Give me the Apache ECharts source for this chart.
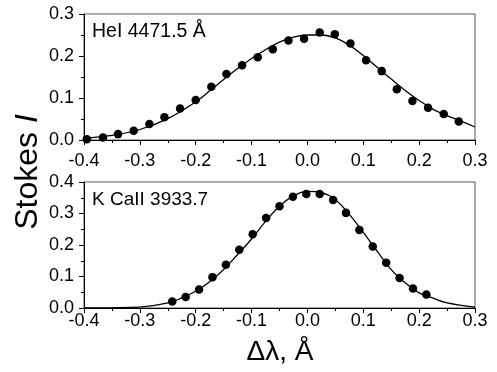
<!DOCTYPE html>
<html>
<head>
<meta charset="utf-8">
<script src="https://cdn.jsdelivr.net/npm/echarts@6/dist/echarts.min.js"></script>
<style>html,body{margin:0;padding:0;background:#fff;}#c{width:497px;height:372px;}</style>
</head>
<body>
<div id="c"></div>
<script>
// Top panel: HeI 4471.5 Å
const heX = [-0.395,-0.366,-0.339,-0.311,-0.283,-0.256,-0.228,-0.200,-0.172,-0.145,-0.117,-0.089,-0.062,-0.034,-0.006,0.022,0.049,0.077,0.105,0.133,0.160,0.188,0.216,0.244,0.271];
const heY = [0.002,0.006,0.014,0.022,0.038,0.054,0.075,0.095,0.127,0.157,0.178,0.197,0.216,0.237,0.241,0.256,0.252,0.230,0.190,0.164,0.121,0.093,0.077,0.062,0.044];
const heFitX = [-0.4,-0.35,-0.3,-0.25,-0.2,-0.175,-0.15,-0.125,-0.1,-0.075,-0.05,-0.025,0,0.025,0.05,0.075,0.1,0.125,0.15,0.175,0.2,0.225,0.25,0.275,0.3];
const heFitY = [0.004,0.011,0.025,0.051,0.091,0.117,0.144,0.170,0.194,0.215,0.233,0.245,0.250,0.250,0.243,0.226,0.201,0.173,0.145,0.118,0.094,0.073,0.058,0.045,0.031];
// Bottom panel: K CaII 3933.7
const caX = [-0.242,-0.218,-0.194,-0.170,-0.146,-0.122,-0.098,-0.074,-0.050,-0.026,-0.002,0.022,0.046,0.069,0.093,0.117,0.141,0.165,0.189,0.213];
const caY = [0.021,0.035,0.059,0.098,0.137,0.185,0.234,0.286,0.323,0.353,0.362,0.362,0.343,0.302,0.248,0.195,0.144,0.095,0.062,0.043];
const caFitX = [-0.4,-0.35,-0.3,-0.25,-0.225,-0.2,-0.175,-0.15,-0.125,-0.1,-0.075,-0.05,-0.025,0,0.025,0.05,0.075,0.1,0.125,0.15,0.175,0.2,0.225,0.25,0.3];
const caFitY = [0.000,0.001,0.003,0.016,0.032,0.053,0.083,0.122,0.170,0.219,0.275,0.323,0.356,0.370,0.366,0.344,0.297,0.240,0.180,0.122,0.080,0.048,0.031,0.016,0.003];

const labels = {
  top: 'HeI 4471.5 Å',
  bottom: 'K CaII 3933.7',
  yTitle: 'Stokes ',
  yTitleItalic: 'I',
  xTitle: 'Δλ, Å'
};

const pairs = (xs, ys) => xs.map((x, i) => [x, ys[i]]);
const font = 'Arial';

function xAxis(gi, margin) {
  return {
    gridIndex: gi, type: 'value', min: -0.4, max: 0.3, interval: 0.1,
    axisLine: { show: true, onZero: false, lineStyle: { color: '#000', width: 1 } },
    axisTick: { show: true, inside: false, length: 5, lineStyle: { color: '#000' } },
    minorTick: { show: true, splitNumber: 2, length: 3, lineStyle: { color: '#000' } },
    splitLine: { show: false },
    axisLabel: { color: '#000', fontSize: 18, fontFamily: font, margin: margin,
      formatter: v => v.toFixed(1) }
  };
}
function yAxis(gi, max) {
  return {
    gridIndex: gi, type: 'value', min: 0, max: max, interval: 0.1,
    axisLine: { show: true, onZero: false, lineStyle: { color: '#000', width: 1 } },
    axisTick: { show: true, inside: false, length: 5, lineStyle: { color: '#000' } },
    minorTick: { show: true, splitNumber: 2, length: 3, lineStyle: { color: '#000' } },
    splitLine: { show: false },
    axisLabel: { color: '#000', fontSize: 18, fontFamily: font, margin: 10,
      formatter: v => v.toFixed(1) }
  };
}

const chart = echarts.init(document.getElementById('c'), null, { renderer: 'canvas' });
chart.setOption({
  animation: false,
  backgroundColor: '#fff',
  grid: [
    { left: 84, top: 14, width: 391, height: 126, show: true, borderColor: '#555', borderWidth: 1, backgroundColor: 'transparent' },
    { left: 84, top: 182, width: 391, height: 126, show: true, borderColor: '#555', borderWidth: 1, backgroundColor: 'transparent' }
  ],
  xAxis: [xAxis(0, 12), xAxis(1, 4)],
  yAxis: [yAxis(0, 0.3), yAxis(1, 0.4)],
  series: [
    { type: 'line', xAxisIndex: 0, yAxisIndex: 0, data: pairs(heFitX, heFitY), smooth: 0.4,
      showSymbol: false, lineStyle: { color: '#000', width: 1.3 }, z: 2 },
    { type: 'scatter', xAxisIndex: 0, yAxisIndex: 0, data: pairs(heX, heY), symbolSize: 8.5,
      itemStyle: { color: '#000', opacity: 1 }, z: 3 },
    { type: 'line', xAxisIndex: 1, yAxisIndex: 1, data: pairs(caFitX, caFitY), smooth: 0.4,
      showSymbol: false, lineStyle: { color: '#000', width: 1.3 }, z: 2 },
    { type: 'scatter', xAxisIndex: 1, yAxisIndex: 1, data: pairs(caX, caY), symbolSize: 8.5,
      itemStyle: { color: '#000', opacity: 1 }, z: 3 }
  ],
  graphic: [
    { type: 'text', x: 92, y: 32, style: { text: labels.top, fill: '#000', fontSize: 19.5, fontFamily: font, textVerticalAlign: 'middle' } },
    { type: 'text', x: 92, y: 200, style: { text: labels.bottom, fill: '#000', fontSize: 19, fontFamily: font, textVerticalAlign: 'middle' } },
    { type: 'text', x: 280, y: 352, style: { text: labels.xTitle, fill: '#000', fontSize: 28, fontFamily: font, textAlign: 'center', textVerticalAlign: 'middle' } },
    { type: 'text', x: 28, y: 172, rotation: Math.PI / 2,
      style: { text: '{a|' + labels.yTitle + '}{b|' + labels.yTitleItalic + '}', fill: '#000', textAlign: 'center', textVerticalAlign: 'middle',
        rich: { a: { fontSize: 32, fontFamily: font, fill: '#000' }, b: { fontSize: 32, fontFamily: font, fontStyle: 'italic', fill: '#000' } } } }
  ]
});
</script>
</body>
</html>
